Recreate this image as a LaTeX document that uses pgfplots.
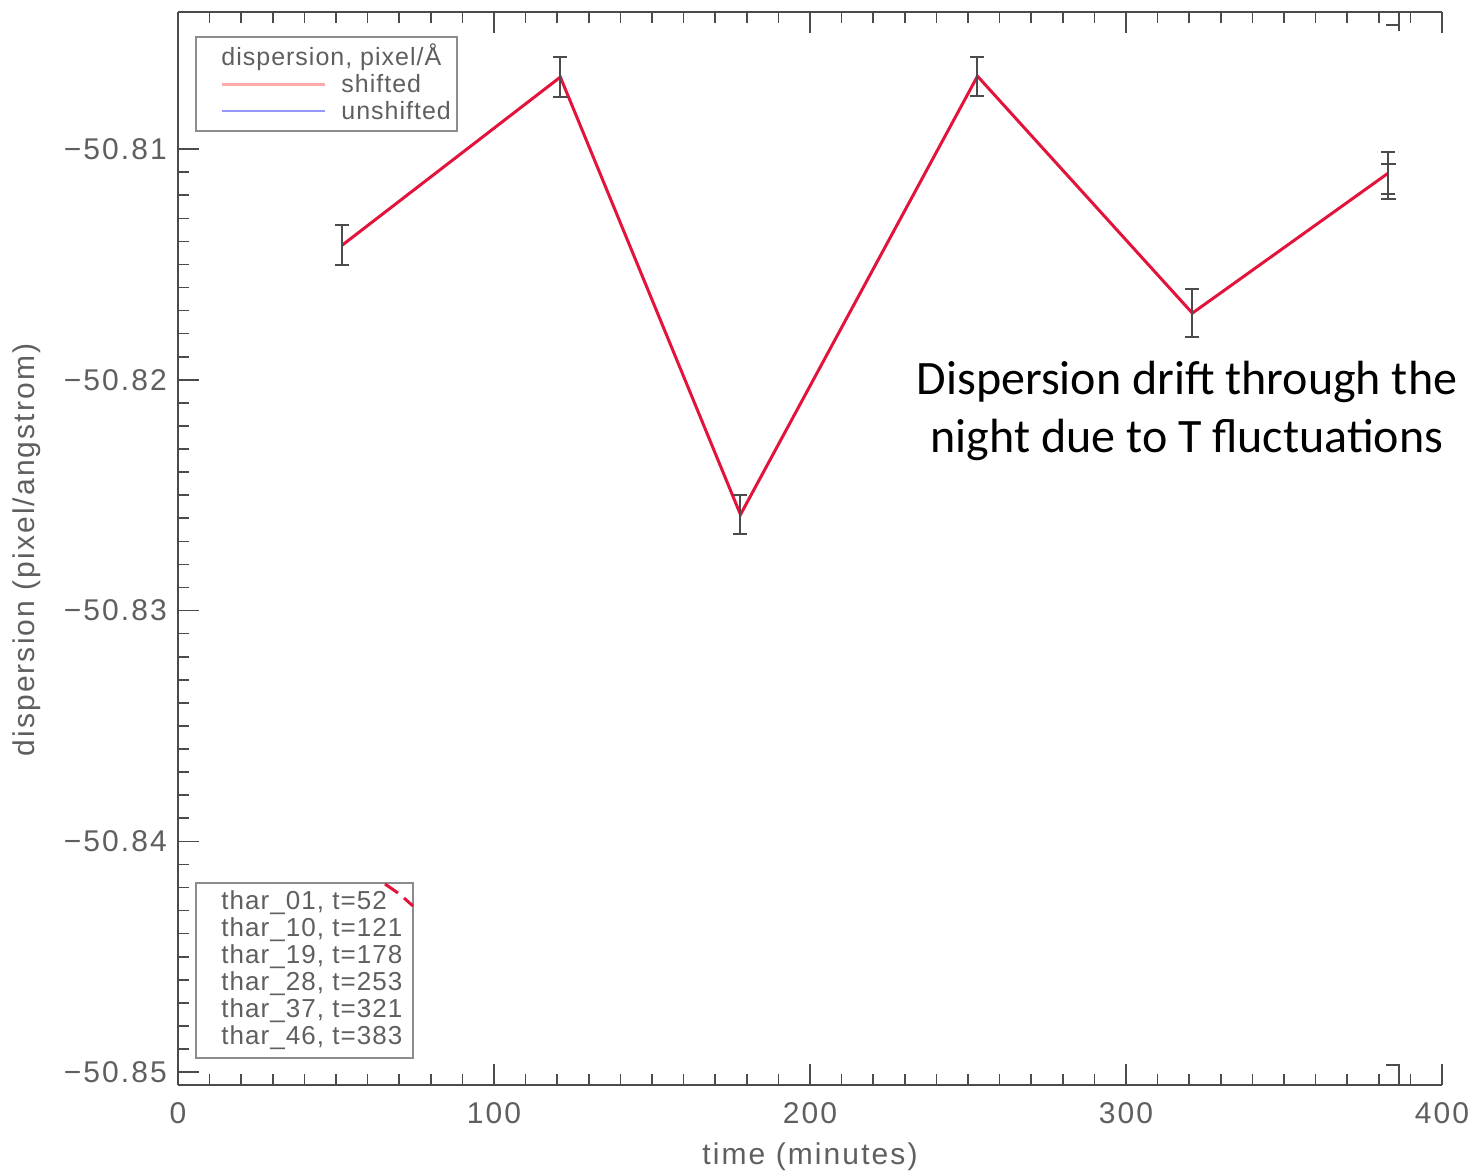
\documentclass[border=0pt]{standalone}
\usepackage{fontspec}
\setmainfont{Liberation Sans}
\newfontfamily\idlfont[LetterSpace=7]{Liberation Sans}
\newfontfamily\legfont[LetterSpace=4]{Liberation Sans}
\newfontfamily\annfont{Carlito}
\usepackage{pgfplots}
\pgfplotsset{compat=1.18}
\definecolor{linered}{RGB}{226,20,60}
\definecolor{axgray}{RGB}{75,75,75}
\definecolor{txtgray}{RGB}{95,95,95}
\definecolor{boxgray}{RGB}{140,140,140}
\definecolor{shiftpink}{RGB}{255,170,170}
\definecolor{unshiftblue}{RGB}{150,150,255}

\pgfplotstableread{
t    d          e
52   -50.81416  0.00087
121  -50.80688  0.00086
178  -50.82584  0.00085
253  -50.80684  0.00085
321  -50.81711  0.00104
383  -50.81104  0.00091
}\disptable

\begin{document}
\begin{tikzpicture}
\useasboundingbox (0,0) rectangle (737pt,-587.5pt);
\begin{axis}[
  at={(89pt,-542.5pt)}, anchor=south west,
  scale only axis, width=632pt, height=536.5pt,
  xmin=0, xmax=400, ymin=-50.85056, ymax=-50.80406,
  axis line style={draw=none},
  xtick pos=both, ytick pos=left,
  xtick={0,100,200,300,400},
  xticklabels={0,100,200,300,400},
  ytick={-50.85,-50.84,-50.83,-50.82,-50.81},
  yticklabels={−50.85,−50.84,−50.83,−50.82,−50.81},
  minor x tick num=9, minor y tick num=9,
  tick align=inside,
  major tick length=10.5pt, minor tick length=5.5pt,
  tick style={axgray, line width=0.8pt},
  ticklabel style={font=\idlfont\fontsize{15}{18}\selectfont, text=txtgray},
  xticklabel shift=5pt, yticklabel shift=2pt,
  clip=false,
]
\addplot[linered, line width=1.5pt, mark=none,
  error bars/.cd, y dir=both, y explicit,
  error bar style={axgray, line width=1pt},
  error mark options={rotate=90, mark size=3.5pt, axgray, line width=1pt}]
  table[x=t, y=d, y error=e] {\disptable};
\addplot[draw=none, mark=none,
  error bars/.cd, y dir=both, y explicit,
  error bar style={axgray, line width=1pt},
  error mark options={rotate=90, mark size=3.8pt, axgray, line width=1pt}]
  coordinates {(383,-50.81141) +- (0,0.00076)};
\end{axis}

\begin{scope}[x=0.5pt, y=-0.5pt]
  % the right side stays open
  \fill[white] (1436,34) rectangle (1450,1062);

  % axis frame: top, bottom and left sides only
  \draw[axgray, line width=1pt, line cap=butt] (178,12) -- (1442,12);
  \draw[axgray, line width=1pt, line cap=butt] (178,1085) -- (1442,1085);
  \draw[axgray, line width=1pt, line cap=butt] (178,12) -- (178,1085);

  % legend box
  \draw[boxgray, line width=1pt] (196,37) rectangle (457,131);
  \node[anchor=west, inner sep=0, text=txtgray, font=\legfont\fontsize{12.5}{15}\selectfont] at (221,57) {dispersion, pixel/Å};
  \draw[shiftpink, line width=1.5pt] (222,84) -- (325,84);
  \node[anchor=west, inner sep=0, text=txtgray, font=\legfont\fontsize{12.5}{15}\selectfont] at (341,84) {shifted};
  \draw[unshiftblue, line width=1.2pt] (222,111) -- (325,111);
  \node[anchor=west, inner sep=0, text=txtgray, font=\legfont\fontsize{12.5}{15}\selectfont] at (341,111) {unshifted};

  % frame list box
  \draw[boxgray, line width=1pt] (196,883) rectangle (413,1058);
  \foreach \k/\lab in {0/{thar\_01, t=52},1/{thar\_10, t=121},2/{thar\_19, t=178},3/{thar\_28, t=253},4/{thar\_37, t=321},5/{thar\_46, t=383}}{
    \node[anchor=west, inner sep=0, text=txtgray, font=\legfont\fontsize{13}{16}\selectfont] at (221,903+27*\k) {\lab};
  }
  \draw[linered, line width=1.5pt] (385,884) -- (398,893);
  \draw[linered, line width=1.5pt] (404,898) -- (413,906);

  % small corner marks
  \draw[axgray, line width=0.8pt] (1386,25) -- (1399,25);
  \draw[axgray, line width=0.8pt] (1399,12) -- (1399,31);
  \draw[axgray, line width=0.8pt] (1386,1065) -- (1399,1065) -- (1399,1085);

  % axis titles
  \node[text=txtgray, font=\idlfont\fontsize{15}{18}\selectfont] at (810,1157) {time (minutes)};
  \node[text=txtgray, font=\idlfont\fontsize{15}{18}\selectfont, rotate=90] at (27,550) {dispersion (pixel/angstrom)};

  % annotation
  \node[align=center, font=\annfont\fontsize{24}{29}\selectfont] at (1187,411) {Dispersion drift through the\\night due to T fluctuations};
\end{scope}
\end{tikzpicture}
\end{document}
